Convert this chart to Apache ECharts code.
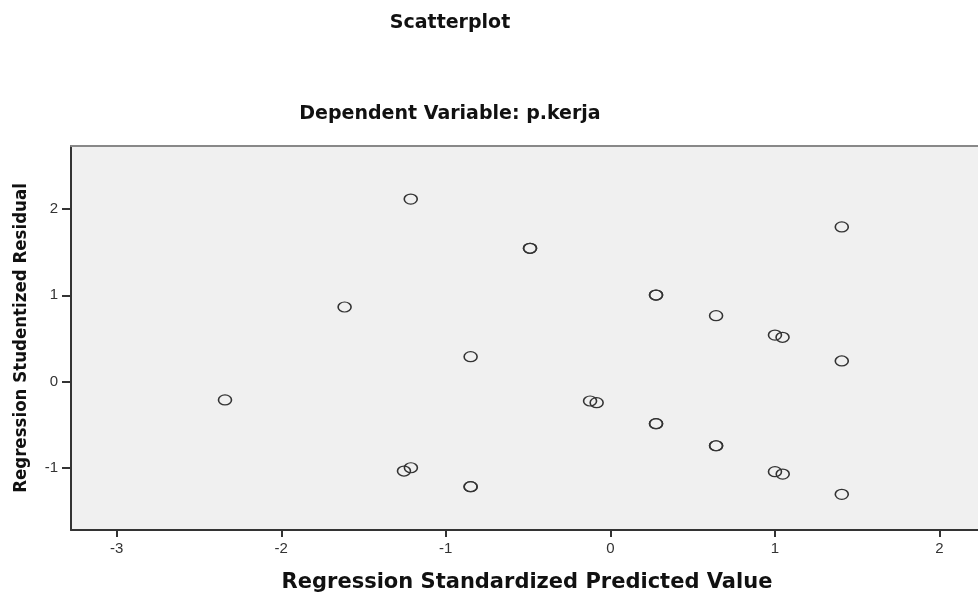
<!DOCTYPE html>
<html>
<head>
<meta charset="utf-8">
<script src="https://cdn.jsdelivr.net/npm/echarts@6/dist/echarts.min.js"></script>
<style>html,body{margin:0;padding:0;background:#fff}#c{width:978px;height:593px}</style>
</head>
<body>
<div id="c"></div>
<script>
// Regression Standardized Predicted Value (x) and Studentized Residual (y)
var predicted = [-2.342, -1.213, -1.615, -1.254, -1.212, -0.849, -0.849, -0.849, -0.488, -0.488,
  -0.123, -0.083, 0.278, 0.278, 0.278, 0.278, 0.643, 0.643, 0.643, 1.001, 1.047, 1.001, 1.048,
  1.407, 1.407, 1.407];
var residual = [-0.214, 2.116, 0.864, -1.038, -1.000, 0.288, -1.220, -1.220, 1.545, 1.545,
  -0.226, -0.246, 1.003, 1.003, -0.489, -0.489, 0.763, -0.745, -0.745, 0.539, 0.513, -1.046, -1.073,
  1.792, 0.238, -1.308];
var xTicks = [-3, -2, -1, 0, 1, 2];
var yTicks = [-1, 0, 1, 2];

var points = predicted.map(function (v, i) { return [v, residual[i]]; });

var chart = echarts.init(document.getElementById('c'), null, {renderer: 'canvas'});
chart.setOption({
  animation: false,
  backgroundColor: '#ffffff',
  title: [
    {text: 'Scatterplot', left: 445, top: 9, textAlign: 'center',
     textStyle: {fontFamily: 'DejaVu Sans', fontWeight: 'bold', fontSize: 19, color: '#111'}},
    {text: 'Dependent Variable: p.kerja', left: 445, top: 100, textAlign: 'center',
     textStyle: {fontFamily: 'DejaVu Sans', fontWeight: 'bold', fontSize: 19, color: '#111'}}
  ],
  grid: {left: 71, top: 146, right: 0, height: 384, show: true, outerBoundsMode: 'none',
    backgroundColor: '#f0f0f0', borderWidth: 0},
  xAxis: [{
    type: 'value', min: -3.278, max: 2.235,
    name: 'Regression Standardized Predicted Value', nameLocation: 'middle', nameGap: 42,
    nameTextStyle: {fontFamily: 'DejaVu Sans', fontWeight: 'bold', fontSize: 21, color: '#111', padding: [0, 0, 0, 5]},
    axisLine: {show: true, onZero: false, lineStyle: {color: '#333', width: 2}},
    axisTick: {show: true, length: 7, customValues: xTicks, lineStyle: {color: '#333', width: 2}},
    axisLabel: {customValues: xTicks, margin: 11, fontFamily: 'Liberation Sans', fontSize: 15, color: '#333'},
    splitLine: {show: false}
  }, {
    type: 'value', position: 'top', min: -3.278, max: 2.235,
    axisLine: {show: true, onZero: false, lineStyle: {color: '#888', width: 2}},
    axisTick: {show: false}, axisLabel: {show: false}, splitLine: {show: false}
  }],
  yAxis: {
    type: 'value', min: -1.722, max: 2.731,
    name: 'Regression Studentized Residual', nameLocation: 'middle', nameGap: 40, nameRotate: 90,
    nameTextStyle: {fontFamily: "'DejaVu Sans Condensed', 'Liberation Sans'", fontWeight: 'bold', fontSize: 18.5, color: '#111'},
    axisLine: {show: true, onZero: false, lineStyle: {color: '#333', width: 2}},
    axisTick: {show: true, length: 9, customValues: yTicks, lineStyle: {color: '#333', width: 2}},
    axisLabel: {customValues: yTicks, margin: 13, fontFamily: 'Liberation Sans', fontSize: 15, color: '#333'},
    splitLine: {show: false}
  },
  series: [{
    type: 'scatter',
    data: points,
    symbol: 'circle',
    symbolSize: [13, 10],
    itemStyle: {color: 'rgba(0,0,0,0)', borderColor: '#333', borderWidth: 1.4, opacity: 1}
  }]
});
</script>
</body>
</html>
